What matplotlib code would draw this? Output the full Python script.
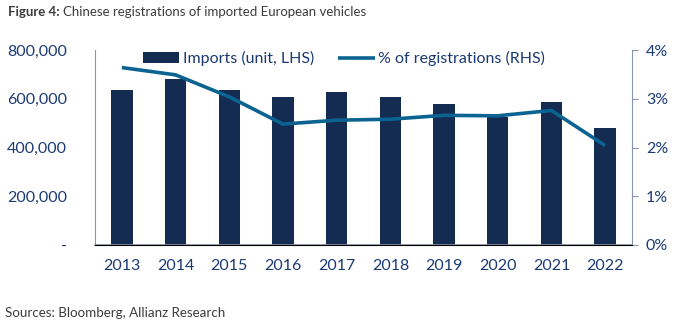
import numpy as np
import matplotlib
matplotlib.use("Agg")
import matplotlib.pyplot as plt
from matplotlib.ticker import FuncFormatter

years = ["2013", "2014", "2015", "2016", "2017", "2018", "2019", "2020", "2021", "2022"]
imports = [636000, 683000, 636000, 607000, 629000, 608000, 577000, 524000, 588000, 478000]
share_pct = [3.64, 3.49, 3.04, 2.48, 2.56, 2.58, 2.66, 2.65, 2.76, 2.04]

bar_color = "#142B52"
line_color = "#0B6391"
tick_color = "#1B3A73"
spine_color = "#8A94AA"
note_color = "#3C3C3C"

plt.rcParams["font.family"] = ["Lato", "DejaVu Sans"]

fig = plt.figure(figsize=(6.76, 3.29), dpi=100)
ax = fig.add_axes([95 / 676, 1 - 245 / 329, (632 - 95) / 676, (245 - 50) / 329])
ax2 = ax.twinx()

x = np.arange(len(years))
ax.bar(x, imports, width=0.4, color=bar_color, label="Imports (unit, LHS)", zorder=2)
ax2.plot(x, share_pct, color=line_color, lw=2.6, label="% of registrations (RHS)",
         solid_capstyle="butt")

ax.set_xlim(-0.5, len(years) - 0.5)
ax.set_ylim(0, 800000)
ax2.set_ylim(0, 4)
ax.set_yticks([0, 200000, 400000, 600000, 800000])
ax.yaxis.set_major_formatter(FuncFormatter(lambda v, p: "-" if v == 0 else f"{int(v):,}"))
ax2.set_yticks([0, 1, 2, 3, 4])
ax2.yaxis.set_major_formatter(FuncFormatter(lambda v, p: f"{int(v)}%"))
ax.set_xticks(x)
ax.set_xticklabels(years)

for a in (ax, ax2):
    for s in ("top", "left", "right"):
        a.spines[s].set_visible(False)
ax.spines["left"].set_visible(True)
ax2.spines["right"].set_visible(True)
ax.spines["left"].set_color(spine_color)
ax2.spines["right"].set_color(spine_color)
ax.spines["bottom"].set_color(spine_color)
ax.spines["bottom"].set_linewidth(1.2)

ax.tick_params(axis="y", length=0, pad=20, labelsize=11.5, labelcolor=tick_color)
ax.tick_params(axis="x", length=0, pad=10, labelsize=11.5, labelcolor=tick_color)
ax2.tick_params(axis="y", length=4, color=spine_color, pad=6, labelsize=11.5, labelcolor=tick_color)

h1, l1 = ax.get_legend_handles_labels()
h2, l2 = ax2.get_legend_handles_labels()
leg = ax2.legend(h1 + h2, l1 + l2, loc="upper center", bbox_to_anchor=(0.463, 1.06), ncol=2,
                 frameon=False, fontsize=11.5, handlelength=2.3, handletextpad=0.2,
                 columnspacing=1.5, borderpad=0.3)
for t in leg.get_texts():
    t.set_color(tick_color)

# title: bold lead-in followed by regular text
t1 = fig.text(8 / 676, 1 - 12 / 329, "Figure 4:", fontsize=9.5, fontweight="bold",
              color=note_color, va="center")
fig.canvas.draw()
bb = t1.get_window_extent()
fig.text((bb.x1 + 3) / 676, 1 - 12 / 329, "Chinese registrations of imported European vehicles",
         fontsize=9.5, color=note_color, va="center")
fig.text(5 / 676, 1 - 313 / 329, "Sources: Bloomberg, Allianz Research", fontsize=9.6,
         color=note_color, va="center")

fig.savefig("out.png", dpi=100)
